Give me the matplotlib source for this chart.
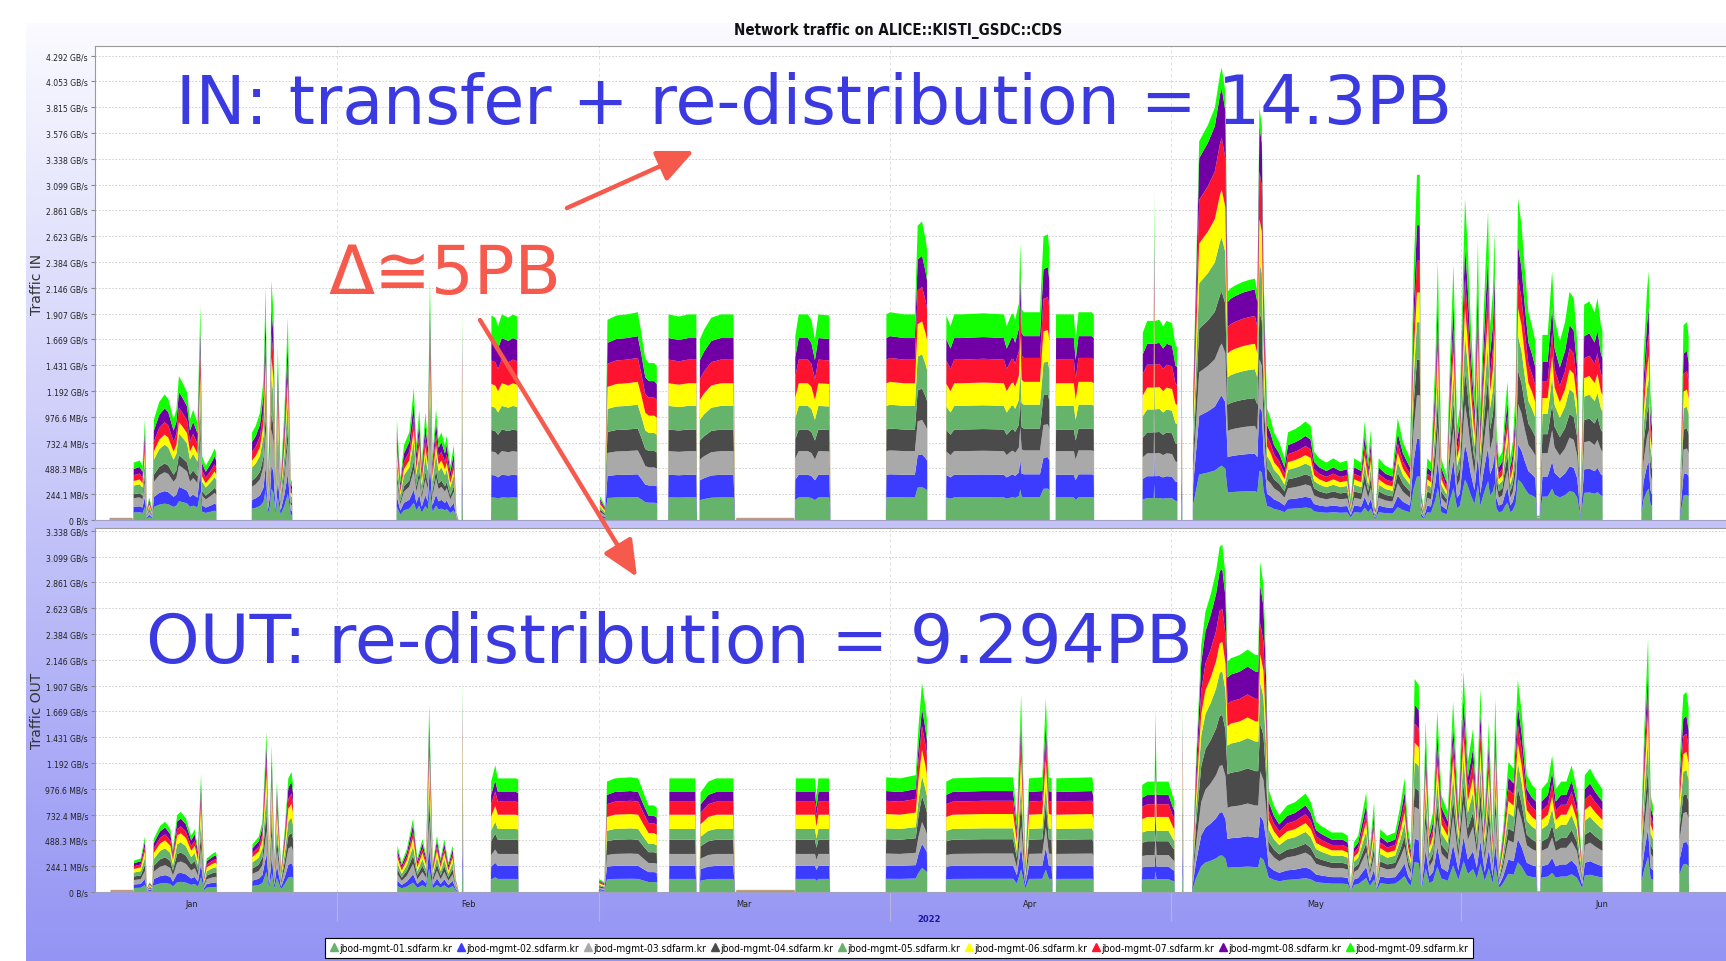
import numpy as np
import matplotlib
matplotlib.use("Agg")
import matplotlib.pyplot as plt
from matplotlib import font_manager as fm
from matplotlib.lines import Line2D

# ---------------- data (day of year 2022, GB/s) ----------------
hosts = ["jbod-mgmt-%02d.sdfarm.kr" % i for i in range(1, 10)]
host_colors = ["#66b46c", "#3c3cff", "#a9a9a9", "#4b4b4b", "#66b46c",
               "#ffff00", "#ff1430", "#7000a6", "#11ff00"]

ytick_labels = ["0 B/s", "244.1 MB/s", "488.3 MB/s", "732.4 MB/s", "976.6 MB/s",
                "1.192 GB/s", "1.431 GB/s", "1.669 GB/s", "1.907 GB/s", "2.146 GB/s",
                "2.384 GB/s", "2.623 GB/s", "2.861 GB/s", "3.099 GB/s", "3.338 GB/s",
                "3.576 GB/s", "3.815 GB/s", "4.053 GB/s", "4.292 GB/s"]
months = ["Jan", "Feb", "Mar", "Apr", "May", "Jun"]
month_mid = [15.5, 45, 74.5, 105, 135.5, 166]
month_start = [31, 59, 90, 120, 151]

# total traffic IN (day, GB/s)
in_traffic = [
    (5.17, 0), (6.7, 0), (6.75, 0.02), (9.15, 0.02), (9.25, 0),
    (9.3, 0.53), (9.94, 0.55), (10.24, 0.50), (10.51, 0.94), (10.7, 0.10), (10.96, 0.21),
    (11.27, 0.10), (11.46, 0.93), (12.03, 1.09), (12.6, 1.16), (12.99, 1.12), (13.56, 0.93),
    (13.86, 1.02), (14.13, 1.33), (14.51, 1.27), (15.0, 1.18), (15.31, 0.93), (15.65, 1.02),
    (16.11, 0.90), (16.42, 1.98), (16.61, 0.59), (16.99, 0.50), (17.56, 0.59), (17.94, 0.66),
    (18.1, 0.62), (18.15, 0),
    (21.9, 0), (21.94, 0.81), (22.33, 0.87), (22.78, 0.99), (23.16, 1.30), (23.39, 2.16),
    (23.62, 0.38), (23.85, 0.99), (24.0, 2.21), (24.23, 1.92), (24.46, 0.38), (24.69, 1.61),
    (24.99, 0.38), (25.38, 0.99), (25.76, 1.87), (26.06, 0.38), (26.2, 0.35), (26.25, 0),
    (37.35, 0), (37.4, 0.93), (37.77, 0.38), (38.15, 0.69), (38.72, 0.81), (39.21, 1.22),
    (39.48, 0.69), (39.79, 1.02), (40.05, 0.53), (40.44, 0.99), (40.7, 0.75), (40.93, 2.22),
    (41.2, 0.59), (41.58, 1.02), (41.85, 0.75), (42.15, 0.81), (42.53, 0.69), (42.72, 0.78),
    (43.1, 0.50), (43.48, 0.69), (43.75, 0.07), (43.98, 0), (44.3, 0), (44.36, 1.95), (44.45, 0),
    (47.45, 0), (47.49, 1.89), (47.9, 1.87), (48.2, 1.79), (48.6, 1.90), (49.3, 1.87),
    (49.8, 1.90), (50.25, 1.88), (50.3, 0),
    (59.05, 0), (59.1, 0.22), (59.6, 0.13), (59.88, 1.85), (60.83, 1.89), (61.97, 1.90),
    (63.12, 1.92), (63.5, 1.73), (63.92, 1.49), (64.3, 1.45), (64.88, 1.45), (65.15, 1.42), (65.2, 0),
    (66.35, 0), (66.4, 1.90), (67.5, 1.88), (68.5, 1.90), (69.37, 1.90), (69.45, 0), (69.7, 0),
    (69.75, 1.67), (70.2, 1.76), (70.97, 1.87), (72.0, 1.90), (73.34, 1.90), (73.5, 0),
    (73.6, 0), (73.65, 0.02), (79.8, 0.02), (79.85, 0),
    (79.88, 0), (79.93, 1.70), (80.3, 1.90), (81.27, 1.90), (81.65, 1.85), (82.03, 1.67),
    (82.4, 1.90), (83.56, 1.89), (83.7, 0),
    (89.6, 0), (89.66, 1.90), (90.04, 1.92), (91.56, 1.90), (92.7, 1.90), (93.0, 2.72),
    (93.47, 2.76), (93.85, 2.59), (94.0, 2.5), (94.04, 0),
    (96.0, 0), (96.06, 1.89), (96.5, 1.79), (96.9, 1.90), (97.66, 1.90), (100.0, 1.91),
    (102.2, 1.90), (102.5, 1.79), (103.0, 1.90), (103.2, 1.91), (103.4, 1.85), (103.8, 2.0),
    (103.95, 2.56), (104.1, 1.95), (104.33, 1.92), (106.05, 1.92), (106.43, 2.62),
    (106.9, 2.64), (107.05, 2.5), (107.1, 0),
    (107.72, 0), (107.77, 1.90), (109.67, 1.90), (109.86, 1.67), (110.17, 1.92),
    (111.57, 1.92), (111.8, 1.9), (111.84, 0),
    (116.98, 0), (117.03, 1.73), (117.5, 1.84), (118.2, 1.84), (118.25, 3.04), (118.3, 1.84),
    (118.8, 1.85), (119.2, 1.79), (119.58, 1.84), (120.15, 1.82), (120.53, 1.61), (120.7, 1.6),
    (120.73, 0), (121.12, 0), (121.19, 1.71), (121.26, 0),
    (122.36, 0), (122.41, 1.18), (123.05, 3.5), (123.42, 3.56), (123.98, 3.65), (124.72, 3.81),
    (125.28, 4.12), (125.46, 4.18), (125.84, 3.96), (126.1, 2.11), (126.39, 2.14),
    (126.95, 2.17), (127.7, 2.20), (128.44, 2.22), (129.0, 2.23), (129.26, 2.11),
    (129.48, 3.81), (129.74, 3.65), (129.93, 2.26), (130.3, 1.03), (130.67, 0.94),
    (131.04, 0.81), (131.6, 0.72), (132.16, 0.57), (132.53, 0.81), (133.28, 0.84),
    (133.83, 0.87), (134.39, 0.91), (134.95, 0.87), (135.32, 0.63), (135.88, 0.57),
    (136.63, 0.53), (137.37, 0.57), (138.11, 0.53), (138.86, 0.55), (139.23, 0.19),
    (139.6, 0.57), (140.35, 0.53), (140.72, 0.91), (141.09, 0.57), (141.39, 0.84),
    (141.76, 0.13), (141.91, 0.10), (142.21, 0.57), (142.95, 0.50), (143.69, 0.47),
    (144.25, 0.94), (144.81, 0.72), (145.55, 0.57), (145.93, 2.26), (146.3, 3.19),
    (146.6, 3.19), (146.74, 0.26), (147.04, 0.10), (147.41, 0.57), (147.79, 0.53),
    (148.27, 1.49), (148.53, 2.39), (148.9, 0.57), (149.46, 0.41), (149.83, 1.49),
    (150.2, 2.36), (150.58, 0.87), (150.87, 1.03), (151.21, 2.26), (151.43, 2.97),
    (151.69, 2.57), (152.06, 1.80), (152.44, 1.18), (152.81, 2.57), (153.07, 1.03),
    (153.37, 1.80), (153.66, 2.42), (153.89, 2.85), (154.11, 1.80), (154.41, 2.11),
    (154.59, 2.67), (154.78, 0.87), (155.04, 0.57), (155.41, 0.63), (155.71, 1.03),
    (155.97, 1.28), (156.27, 0.57), (156.53, 0.72), (156.83, 1.18), (157.09, 2.97),
    (157.46, 2.73), (157.83, 2.30), (158.2, 1.92), (158.57, 1.80), (158.95, 1.65),
    (159.13, 0.04), (159.39, 0.04), (159.69, 1.71), (160.25, 1.71), (160.73, 2.30),
    (160.99, 1.86), (161.55, 1.65), (162.11, 1.83), (162.59, 2.11), (163.04, 2.05),
    (163.41, 1.65), (163.78, 0.16), (164.15, 1.99), (164.71, 2.02), (165.27, 1.92),
    (165.57, 2.05), (165.94, 1.80), (166.1, 1.75), (166.13, 0),
    (170.25, 0), (170.29, 0.5), (170.48, 1.49), (170.85, 2.11), (171.04, 2.30), (171.22, 1.18),
    (171.4, 1.0), (171.41, 0),
    (174.35, 0), (174.39, 0.26), (174.76, 1.80), (175.13, 1.83), (175.3, 1.7), (175.32, 0),
    (181.0, 0),
]

# total traffic OUT (day, GB/s)
out_traffic = [
    (5.17, 0), (6.8, 0), (6.85, 0.02), (9.25, 0.02), (9.3, 0),
    (9.33, 0.29), (10.05, 0.31), (10.5, 0.51), (10.72, 0.04), (11.0, 0.09), (11.27, 0.06),
    (11.44, 0.49), (12.11, 0.61), (12.66, 0.65), (13.22, 0.58), (13.49, 0.40), (13.94, 0.71),
    (14.33, 0.74), (14.88, 0.68), (15.44, 0.52), (15.82, 0.58), (16.16, 0.40), (16.49, 1.09),
    (16.82, 0.15), (17.1, 0.31), (17.66, 0.35), (18.04, 0.37), (18.15, 0.35), (18.2, 0),
    (21.93, 0), (21.98, 0.44), (22.65, 0.51), (23.04, 0.65), (23.48, 1.48), (23.76, 0.27),
    (24.04, 1.36), (24.32, 0.27), (24.59, 1.02), (25.04, 0.21), (25.43, 0.58), (25.81, 1.05),
    (26.15, 1.11), (26.3, 1.0), (26.37, 0),
    (37.42, 0), (37.47, 0.43), (37.91, 0.27), (38.47, 0.40), (39.13, 0.68), (39.58, 0.31),
    (40.13, 0.49), (40.52, 0.34), (40.85, 1.73), (41.24, 0.27), (41.68, 0.52), (42.07, 0.31),
    (42.46, 0.49), (42.9, 0.27), (43.35, 0.43), (43.68, 0.12), (44.02, 0), (44.35, 0),
    (44.41, 1.97), (44.5, 0),
    (47.42, 0), (47.46, 1.02), (47.9, 1.17), (48.18, 1.05), (49.0, 1.05), (50.12, 1.05),
    (50.35, 1.04), (50.4, 0),
    (58.95, 0), (59.0, 0.12), (59.55, 0.09), (59.83, 1.02), (60.66, 1.05), (62.33, 1.06),
    (63.16, 1.05), (63.72, 0.92), (64.27, 0.80), (64.83, 0.80), (65.15, 0.78), (65.21, 0),
    (66.44, 0), (66.49, 1.05), (69.27, 1.05), (69.4, 0), (69.7, 0), (69.82, 0.92),
    (70.65, 1.02), (71.48, 1.05), (73.32, 1.05), (73.5, 0),
    (73.6, 0), (73.65, 0.02), (79.85, 0.02), (79.9, 0),
    (79.93, 0), (79.98, 1.05), (82.03, 1.05), (82.2, 0.89), (82.4, 1.05), (83.53, 1.05), (83.65, 0),
    (89.58, 0), (89.63, 1.06), (91.1, 1.05), (92.79, 1.08), (93.07, 1.51), (93.46, 1.93),
    (93.8, 1.73), (93.98, 1.6), (94.02, 0),
    (96.0, 0), (96.05, 1.02), (96.72, 1.05), (100.0, 1.06), (103.19, 1.06), (103.59, 0.68),
    (104.04, 1.82), (104.32, 0.89), (104.49, 0.27), (104.88, 1.05), (106.3, 1.06),
    (106.68, 1.79), (107.0, 1.06), (107.3, 1.05), (107.41, 0),
    (107.75, 0), (107.8, 1.05), (111.63, 1.06), (111.75, 1.0), (111.8, 0),
    (116.92, 0), (116.97, 0.99), (117.53, 1.02), (118.3, 1.02), (118.38, 1.68), (118.5, 1.02),
    (118.66, 1.02), (119.78, 1.02), (120.23, 0.89), (120.4, 0.85), (120.46, 0),
    (121.23, 0), (121.3, 1.73), (121.37, 0),
    (122.28, 0), (122.32, 0.18), (122.71, 1.20), (123.27, 2.28), (123.72, 2.59),
    (124.28, 2.75), (124.85, 2.96), (125.24, 3.19), (125.52, 3.21), (125.86, 2.93),
    (126.08, 2.13), (126.42, 2.16), (127.38, 2.19), (128.22, 2.24), (129.06, 2.19),
    (129.35, 2.19), (129.57, 3.05), (129.91, 2.84), (130.19, 2.13), (130.47, 0.95),
    (131.03, 0.80), (131.6, 0.71), (132.44, 0.80), (133.28, 0.83), (134.41, 0.91),
    (134.97, 0.83), (135.53, 0.65), (136.09, 0.61), (137.22, 0.55), (138.34, 0.55),
    (138.91, 0.52), (139.24, 0.06), (139.58, 0.46), (140.03, 0.52), (140.88, 0.92),
    (141.27, 0.40), (141.72, 0.83), (142.0, 0.12), (142.39, 0.58), (143.13, 0.52),
    (143.97, 0.55), (144.53, 0.80), (144.98, 1.05), (145.37, 0.58), (145.66, 0.43),
    (146.05, 1.97), (146.5, 1.91), (146.78, 0.12), (147.23, 1.57), (147.63, 0.58),
    (148.02, 0.74), (148.47, 1.67), (148.92, 0.89), (149.59, 0.74), (150.16, 1.76),
    (150.72, 0.80), (151.28, 2.04), (151.73, 1.20), (152.29, 1.51), (152.69, 0.89),
    (153.08, 1.88), (153.53, 0.74), (153.98, 1.57), (154.37, 0.58), (154.66, 1.79),
    (155.1, 0.27), (155.5, 0.58), (156.06, 1.20), (156.62, 1.14), (157.07, 1.96),
    (157.47, 1.67), (158.03, 1.08), (158.59, 0.99), (159.0, 0.95), (159.15, 0.01),
    (159.45, 0.01), (159.6, 0.95), (160.28, 1.02), (160.73, 1.26), (161.12, 0.95),
    (161.69, 1.02), (162.25, 1.02), (162.81, 1.17), (163.37, 0.95), (163.94, 0.27),
    (164.22, 1.08), (164.78, 1.14), (165.34, 1.05), (165.79, 0.99), (166.1, 0.95), (166.13, 0),
    (170.25, 0), (170.29, 0.74), (170.57, 1.51), (170.97, 2.34), (171.25, 0.89), (171.5, 0.8),
    (171.53, 0),
    (174.3, 0), (174.34, 1.20), (174.73, 1.82), (175.07, 1.85), (175.3, 1.7), (175.35, 0),
    (181.0, 0),
]

# share of each host in the stack, per period (Jan-Feb spiky, Feb-Apr blocks, burst, May-Jun)
period_edges = [45, 121, 130.25]
in_shares = [
    [.13, .10, .15, .07, .15, .08, .10, .11, .11],
    [.11, .11, .115, .105, .115, .11, .115, .105, .115],
    [.12, .155, .115, .115, .12, .105, .115, .11, .045],
    [.126, .109, .126, .103, .109, .086, .092, .103, .146],
]
out_shares = [
    [.127, .113, .141, .113, .127, .113, .085, .099, .082],
    [.115, .115, .105, .125, .095, .125, .115, .085, .12],
    [.105, .125, .135, .145, .125, .085, .095, .115, .07],
    [.14, .11, .15, .09, .12, .09, .09, .09, .12],
]

# ---------------- fonts ----------------
avail = {f.name for f in fm.fontManager.ttflist}
if "Liberation Sans Narrow" in avail:
    NARROW = dict(family="Liberation Sans Narrow")
    nscale = 1.0
elif any(f.name == "DejaVu Sans" and f.stretch == "condensed" for f in fm.fontManager.ttflist):
    NARROW = dict(family="DejaVu Sans", stretch="condensed")
    nscale = 0.9
else:
    NARROW = dict(family="DejaVu Sans")
    nscale = 0.8
BIG = ["DejaVu Sans"]

W, H = 1726, 962
BLUE_TXT = "#3a3ae0"
RED_TXT = "#f65a4c"
GB_STEP = 256e6 / 2 ** 30
DAY0, DAY1 = 5.17, 181.0


def fx(px):
    return px / W


def fy(py):
    return 1 - py / H


fig = plt.figure(figsize=(W / 100, H / 100), dpi=100)
fig.patch.set_facecolor("white")

# gradient panel behind the chart
bg = fig.add_axes([fx(26), 0, 1 - fx(26), fy(24)])
t = np.linspace(0, 1, 256)[:, None, None]
c_top = np.array([250, 250, 255]) / 255
c_bot = np.array([148, 148, 244]) / 255
bg.imshow(c_top + (c_bot - c_top) * t, aspect="auto", extent=[0, 1, 0, 1])
bg.axis("off")


def draw_panel(rect_px, data, shares, nticks):
    left, top, right, bottom = rect_px
    ax = fig.add_axes([fx(left), fy(bottom), (right - left) / W, (bottom - top) / H])
    days, total = np.array(data, dtype=float).T
    idx = np.searchsorted(period_edges, days, side="right")
    layers = total[:, None] * np.array(shares)[idx]
    ax.stackplot(days, layers.T, colors=host_colors, linewidth=0, antialiased=True)
    ax.set_xlim(DAY0, DAY1)
    # y scale: tick spacing from the reference (~25.8 px per 244.1 MB/s)
    ax.set_ylim(0, (bottom - top) / (25.8 / GB_STEP))
    ax.set_yticks(np.arange(nticks) * GB_STEP)
    ax.set_yticklabels(ytick_labels[:nticks], fontsize=6.8 * nscale, color="#222222", **NARROW)
    ax.set_xticks(month_start)
    ax.set_axisbelow(True)
    ax.grid(axis="y", color="#c9c9c9", linestyle=(0, (2, 2)), linewidth=0.6)
    ax.grid(axis="x", color="#dddddd", linestyle=(0, (4, 3)), linewidth=0.6)
    ax.tick_params(axis="y", length=3, color="#888888", pad=2)
    for s in ("top", "left"):
        ax.spines[s].set_color("#9a9a9a")
    ax.spines["right"].set_visible(False)
    ax.spines["bottom"].set_color("#a0a0c0")
    ax.set_facecolor("white")
    return ax


ax_in = draw_panel((95, 47, 1742, 521), in_traffic, in_shares, 19)
ax_in.tick_params(axis="x", which="both", length=0, labelbottom=False)

ax_out = draw_panel((95, 529, 1742, 893), out_traffic, out_shares, 15)
ax_out.tick_params(axis="x", which="major", length=21, width=0.8, color="#b4b4dc",
                   labelbottom=False)
ax_out.set_xticks(month_mid, minor=True)
ax_out.set_xticklabels(months, minor=True, fontsize=7.3 * nscale, color="#222222", **NARROW)
ax_out.tick_params(axis="x", which="minor", length=0, pad=5)

fig.text(fx(37), fy(284), "Traffic IN", rotation=90, ha="center", va="center",
         fontsize=10, color="#333333", family="DejaVu Sans")
fig.text(fx(37), fy(711), "Traffic OUT", rotation=90, ha="center", va="center",
         fontsize=10, color="#333333", family="DejaVu Sans")
fig.text(fx(898), fy(31), "Network traffic on ALICE::KISTI_GSDC::CDS", ha="center",
         va="center", fontsize=12 * nscale, fontweight="bold", color="#111111", **NARROW)
fig.text(fx(929), fy(920), "2022", ha="center", va="center", fontsize=7.5 * nscale,
         fontweight="bold", color="#1a1aa0", **NARROW)

handles = [Line2D([], [], marker="^", linestyle="None", color=c, markersize=6)
           for c in host_colors]
leg = fig.legend(handles, hosts, loc="center", bbox_to_anchor=(fx(899), fy(949)), ncol=9,
                 frameon=True, fancybox=False, edgecolor="black", framealpha=1,
                 borderpad=0.45, handletextpad=0.1, columnspacing=0.5, handlelength=0.8,
                 prop=fm.FontProperties(size=8.1 * nscale, **NARROW))
leg.get_frame().set_linewidth(0.8)

# ---------------- annotations overlay (pixel coordinates) ----------------
ov = fig.add_axes([0, 0, 1, 1])
ov.set_xlim(0, W)
ov.set_ylim(H, 0)
ov.axis("off")
renderer = fig.canvas.get_renderer()


def fit_text(x, y, s, width_px, color, size=40):
    txt = ov.text(x, y, s, fontsize=size, color=color, family=BIG, ha="left", va="baseline")
    bb = txt.get_window_extent(renderer)
    txt.set_fontsize(size * width_px / bb.width)
    return txt


fit_text(176, 124, "IN: transfer + re-distribution = 14.3PB", 1277, BLUE_TXT)
fit_text(146, 663, "OUT: re-distribution = 9.294PB", 1046, BLUE_TXT)
fit_text(328, 294, "\u0394\u22455PB", 233, RED_TXT)

arrow = dict(arrowstyle="-|>,head_length=1.0,head_width=0.45", color=RED_TXT, lw=3.2,
             mutation_scale=22, shrinkA=0, shrinkB=0)
ov.annotate("", xy=(694, 152), xytext=(567, 209), arrowprops=arrow)
ov.annotate("", xy=(637, 578), xytext=(480, 321), arrowprops=arrow)

fig.savefig("out.png", dpi=100)
